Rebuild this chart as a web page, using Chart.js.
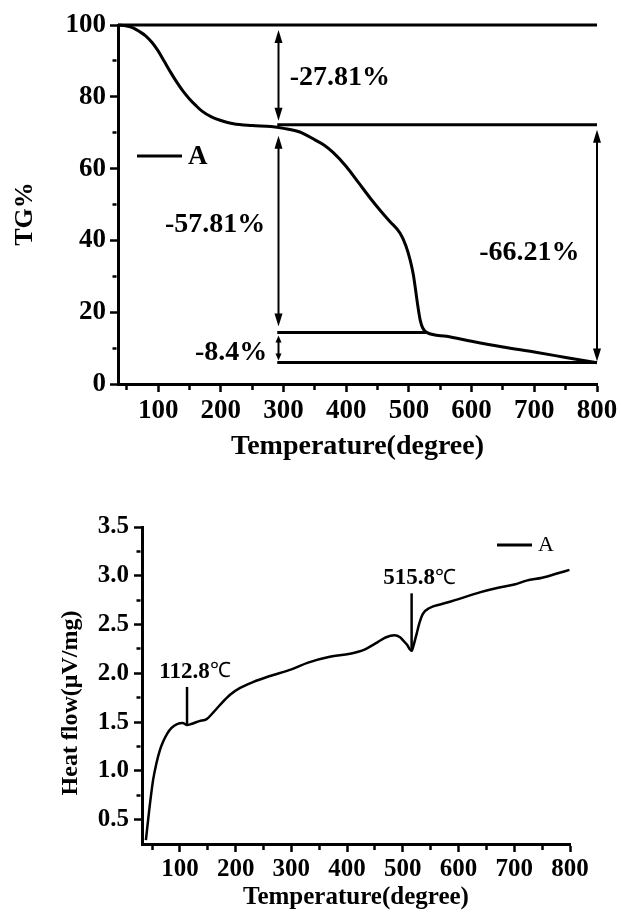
<!DOCTYPE html>
<html>
<head>
<meta charset="utf-8">
<script src="https://cdn.jsdelivr.net/npm/chart.js@4.4.1/dist/chart.umd.min.js"></script>
<style>
  html, body { margin: 0; padding: 0; background: #fff; }
  #tgChart { position: absolute; left: 0; top: 0; }
  #hfChart { position: absolute; left: 0; top: 470px; }
</style>
</head>
<body>
<canvas id="tgChart" width="621" height="470"></canvas>
<canvas id="hfChart" width="621" height="443"></canvas>
<script>
// ---- TG curve (temperature in degree, mass %) ----
const tgTemp = [36, 50, 60, 70, 80, 90, 100, 110, 120, 130, 140, 150, 160, 170, 185, 200, 220, 250, 280, 300,
  326, 350, 365, 379, 400, 420, 440, 455, 470, 486, 495, 502, 507, 510, 514, 518, 522, 529, 560, 600,
  650, 700, 750, 800];
const tgMass = [100, 99.7, 99.2, 98.2, 97.0, 95.2, 92.8, 89.8, 86.8, 84.0, 81.5, 79.4, 77.6, 76.0, 74.4, 73.4, 72.5, 72.0, 71.7, 71.2,
  70.2, 68.0, 66.5, 64.5, 60.6, 56.0, 51.4, 48.2, 45.2, 42.0, 38.6, 34.5, 30.5, 27.0, 22.0, 17.8, 15.6, 14.3, 13.3, 11.9,
  10.3, 8.9, 7.4, 5.9];

// mass levels with their guide lines
const tgLevels = [100, 72.19, 14.38, 5.98];
const tgLevelFrom = [36, 290, 290, 290];
const tgLevelTo = [800, 800, 529, 800];

// arrows between levels (index into tgLevels) and their loss labels
const tgArrowX = [292, 292, 292, 800];
const tgArrowFrom = [0, 1, 2, 1];
const tgArrowTo = [1, 2, 3, 3];
const tgLosses = ["-27.81%", "-57.81%", "-8.4%", "-66.21%"];

const tgXTicks = [50, 100, 150, 200, 250, 300, 350, 400, 450, 500, 550, 600, 650, 700, 750, 800];
const tgYTicks = [0, 10, 20, 30, 40, 50, 60, 70, 80, 90, 100];

// ---- Heat flow curve (temperature in degree, uV/mg) ----
const hfTemp = [39, 45, 52, 58, 64, 70, 77, 85, 95, 105, 112.8, 120, 135, 148, 160, 171, 190, 208, 231, 260,
  300, 330, 369, 405, 430, 455, 470, 485, 495, 500, 508, 512, 515.8, 519, 525, 530, 536, 548, 570, 600,
  638, 673, 700, 722, 750, 775, 799];
const hfFlow = [0.29, 0.6, 0.91, 1.08, 1.21, 1.30, 1.38, 1.44, 1.48, 1.49, 1.47, 1.48, 1.51, 1.53, 1.60, 1.67, 1.78, 1.85, 1.91, 1.97,
  2.04, 2.11, 2.17, 2.20, 2.24, 2.32, 2.37, 2.39, 2.37, 2.34, 2.29, 2.25, 2.23, 2.28, 2.41, 2.52, 2.61, 2.67, 2.71, 2.76,
  2.83, 2.88, 2.91, 2.95, 2.98, 3.02, 3.06];

const hfPeaks = [112.8, 515.8];
const hfPeakBase = [1.47, 2.23];
const hfPeakTop = [1.86, 2.82];

const hfXTicks = [50, 100, 150, 200, 250, 300, 350, 400, 450, 500, 550, 600, 650, 700, 750, 800];
const hfYTicks = [0.5, 0.75, 1.0, 1.25, 1.5, 1.75, 2.0, 2.25, 2.5, 2.75, 3.0, 3.25, 3.5];

const serif = "'Liberation Serif', 'Times New Roman', serif";

function drawArrow(ctx, x, ya, yb, hw, hl) {
  ctx.beginPath();
  ctx.moveTo(x, ya + hl - 1);
  ctx.lineTo(x, yb - hl + 1);
  ctx.stroke();
  ctx.beginPath();
  ctx.moveTo(x, ya);
  ctx.lineTo(x - hw, ya + hl);
  ctx.lineTo(x + hw, ya + hl);
  ctx.closePath();
  ctx.fill();
  ctx.beginPath();
  ctx.moveTo(x, yb);
  ctx.lineTo(x - hw, yb - hl);
  ctx.lineTo(x + hw, yb - hl);
  ctx.closePath();
  ctx.fill();
}

function yTitle(ctx, text, cx, cy, font) {
  ctx.save();
  ctx.translate(cx, cy);
  ctx.rotate(-Math.PI / 2);
  ctx.font = font;
  ctx.textAlign = "center";
  ctx.textBaseline = "middle";
  ctx.fillText(text, 0, 0);
  ctx.restore();
}

// label spots for the loss texts
const lossSpots = [
  { x: 310, y: 85.3, align: "left" },
  { x: 271, y: 44.3, align: "right" },
  { x: 274, y: 8.6, align: "right" },
  { x: 692, y: 36.5, align: "center" },
];
const arrowGaps = [[5, 4], [11, 6], [3, 2], [5, 1]];

const tgNotes = {
  id: "tgNotes",
  afterDatasetsDraw(chart) {
    const { ctx, chartArea: a } = chart;
    const x = chart.scales.x, y = chart.scales.y;
    ctx.save();
    ctx.fillStyle = "#000";
    ctx.strokeStyle = "#000";
    ctx.lineWidth = 2;
    tgArrowX.forEach((t, i) => {
      const px = x.getPixelForValue(t);
      const ya = y.getPixelForValue(tgLevels[tgArrowFrom[i]]) + arrowGaps[i][0];
      const yb = y.getPixelForValue(tgLevels[tgArrowTo[i]]) - arrowGaps[i][1];
      if (i === 2) drawArrow(ctx, px, ya, yb, 3, 7);
      else drawArrow(ctx, px, ya, yb, 4, 13);
    });
    ctx.font = `bold 28px ${serif}`;
    ctx.textBaseline = "middle";
    lossSpots.forEach((p, i) => {
      ctx.textAlign = p.align;
      ctx.fillText(tgLosses[i], x.getPixelForValue(p.x), y.getPixelForValue(p.y));
    });
    // legend
    ctx.lineWidth = 3;
    ctx.beginPath();
    ctx.moveTo(a.left + 19, a.top + 131);
    ctx.lineTo(a.left + 64, a.top + 131);
    ctx.stroke();
    ctx.textAlign = "left";
    ctx.font = `bold 27px ${serif}`;
    ctx.fillText("A", a.left + 70, a.top + 132);
    yTitle(ctx, "TG%", a.left - 93, a.top + 189, `bold 26px ${serif}`);
    ctx.restore();
  },
};

const hfNotes = {
  id: "hfNotes",
  afterDatasetsDraw(chart) {
    const { ctx, chartArea: a } = chart;
    const x = chart.scales.x, y = chart.scales.y;
    ctx.save();
    ctx.fillStyle = "#000";
    ctx.strokeStyle = "#000";
    ctx.lineWidth = 2.5;
    hfPeaks.forEach((t, i) => {
      const px = x.getPixelForValue(t);
      ctx.beginPath();
      ctx.moveTo(px, y.getPixelForValue(hfPeakBase[i]));
      ctx.lineTo(px, y.getPixelForValue(hfPeakTop[i]));
      ctx.stroke();
      // "112.8" bold + "℃" regular, centred over the marker
      const num = String(t);
      ctx.font = `bold 23px ${serif}`;
      const w1 = ctx.measureText(num).width;
      ctx.font = `21px ${serif}`;
      const w2 = ctx.measureText("℃").width;
      const left = px + 8 - (w1 + w2) / 2;
      const py = y.getPixelForValue(hfPeakTop[i]) - 15;
      ctx.textBaseline = "middle";
      ctx.textAlign = "left";
      ctx.font = `bold 23px ${serif}`;
      ctx.fillText(num, left, py);
      ctx.font = `21px ${serif}`;
      ctx.fillText("℃", left + w1, py);
    });
    // legend
    ctx.lineWidth = 3;
    ctx.beginPath();
    ctx.moveTo(a.left + 355, a.top + 18);
    ctx.lineTo(a.left + 390, a.top + 18);
    ctx.stroke();
    ctx.font = `22px ${serif}`;
    ctx.textAlign = "left";
    ctx.textBaseline = "middle";
    ctx.fillText("A", a.left + 396, a.top + 18);
    yTitle(ctx, "Heat flow(μV/mg)", a.left - 71, a.top + 176, `bold 24px ${serif}`);
    ctx.restore();
  },
};

function axisScale(cfg) {
  return {
    type: "linear",
    min: cfg.min,
    max: cfg.max,
    afterBuildTicks: (s) => { s.ticks = cfg.ticks.map((v) => ({ value: v })); },
    afterFit: cfg.fit,
    border: { color: "#000", width: 3 },
    grid: {
      drawOnChartArea: false,
      tickLength: 8,
      tickWidth: 2.5,
      tickColor: "#000",
      tickBorderDash: (c) => (c.tick && !cfg.isMajor(c.tick.value) ? cfg.minorDash : []),
    },
    ticks: {
      color: "#000",
      autoSkip: false,
      maxRotation: 0,
      padding: cfg.padding,
      font: { family: serif, size: cfg.size, weight: "bold" },
      callback: cfg.label,
    },
    title: cfg.title || { display: false },
  };
}

const near = (a, b) => Math.abs(a - b) < 1e-6;

new Chart(document.getElementById("tgChart"), {
  type: "line",
  data: {
    datasets: [
      {
        label: "A",
        data: tgTemp.map((t, i) => ({ x: t, y: tgMass[i] })),
        borderColor: "#000",
        borderWidth: 3,
        pointRadius: 0,
        cubicInterpolationMode: "monotone",
        clip: false,
      },
      ...tgLevels.map((v, i) => ({
        label: "level" + i,
        data: [{ x: tgLevelFrom[i], y: v }, { x: tgLevelTo[i], y: v }],
        borderColor: "#000",
        borderWidth: 3,
        pointRadius: 0,
        clip: false,
      })),
    ],
  },
  options: {
    responsive: false,
    animation: false,
    events: [],
    layout: { padding: { left: 0, top: 25, right: 24, bottom: 0 } },
    plugins: { legend: { display: false }, tooltip: { enabled: false } },
    scales: {
      x: axisScale({
        min: 36, max: 800, ticks: tgXTicks, size: 27, padding: 3,
        fit: (s) => { s.height = 86; },
        isMajor: (v) => v % 100 === 0,
        minorDash: [4, 30],
        label: (v) => (v % 100 === 0 ? v : ""),
        title: { display: true, text: "Temperature(degree)", color: "#000",
          font: { family: serif, size: 28, weight: "bold" }, padding: { top: 0, bottom: 6 } },
      }),
      y: axisScale({
        min: 0, max: 100, ticks: tgYTicks, size: 27, padding: 4,
        fit: (s) => { s.width = 118; },
        isMajor: (v) => v % 20 === 0,
        minorDash: [0, 2.5, 4, 30],
        label: (v) => (v % 20 === 0 ? v : ""),
      }),
    },
  },
  plugins: [tgNotes],
});

new Chart(document.getElementById("hfChart"), {
  type: "line",
  data: {
    datasets: [
      {
        label: "A",
        data: hfTemp.map((t, i) => ({ x: t, y: hfFlow[i] })),
        borderColor: "#000",
        borderWidth: 2.5,
        pointRadius: 0,
        cubicInterpolationMode: "monotone",
        clip: false,
      },
    ],
  },
  options: {
    responsive: false,
    animation: false,
    events: [],
    layout: { padding: { left: 0, top: 57, right: 51, bottom: 0 } },
    plugins: { legend: { display: false }, tooltip: { enabled: false } },
    scales: {
      x: axisScale({
        min: 32, max: 800, ticks: hfXTicks, size: 25, padding: 3,
        fit: (s) => { s.height = 69; },
        isMajor: (v) => v % 100 === 0,
        minorDash: [4, 30],
        label: (v) => (v % 100 === 0 ? v : ""),
        title: { display: true, text: "Temperature(degree)", color: "#000",
          font: { family: serif, size: 25, weight: "bold" }, padding: { top: 0, bottom: 0 } },
      }),
      y: axisScale({
        min: 0.25, max: 3.5, ticks: hfYTicks, size: 25, padding: 5,
        fit: (s) => { s.width = 142; },
        isMajor: (v) => near(v * 2, Math.round(v * 2)),
        minorDash: [0, 2.5, 4, 30],
        label: (v) => (near(v * 2, Math.round(v * 2)) ? v.toFixed(1) : ""),
      }),
    },
  },
  plugins: [hfNotes],
});
</script>
</body>
</html>
